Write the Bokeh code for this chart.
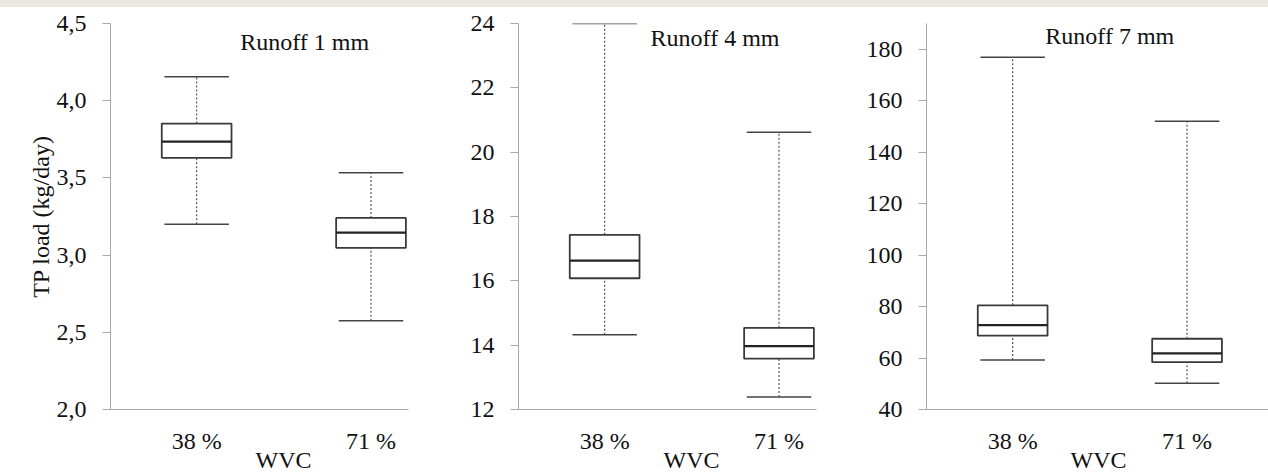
import numpy as np
from bokeh.plotting import figure
from bokeh.layouts import row
from bokeh.models import Range1d, FixedTicker, Label, Title
from bokeh.embed import file_html
from bokeh.resources import INLINE

# ---------------- data ----------------
categories = ["38 %", "71 %"]
x_title = "WVC"
y_title = "TP load (kg/day)"
panel_titles = ["Runoff 1 mm", "Runoff 4 mm", "Runoff 7 mm"]

# Runoff 1 mm : values for [38 %, 71 %]
r1_lower = [3.20, 2.575]
r1_q1 = [3.630, 3.047]
r1_median = [3.735, 3.145]
r1_q3 = [3.852, 3.241]
r1_upper = [4.155, 3.534]

# Runoff 4 mm
r4_lower = [14.32, 12.39]
r4_q1 = [16.08, 13.58]
r4_median = [16.63, 13.97]
r4_q3 = [17.43, 14.54]
r4_upper = [24.00, 20.62]

# Runoff 7 mm
r7_lower = [59.2, 50.2]
r7_q1 = [68.7, 58.4]
r7_median = [72.8, 61.8]
r7_q3 = [80.5, 67.5]
r7_upper = [176.9, 152.0]

r1_ticks = [2.0, 2.5, 3.0, 3.5, 4.0, 4.5]
r1_tick_labels = ["2,0", "2,5", "3,0", "3,5", "4,0", "4,5"]
r4_ticks = [12, 14, 16, 18, 20, 22, 24]
r4_tick_labels = ["12", "14", "16", "18", "20", "22", "24"]
r7_ticks = [40, 60, 80, 100, 120, 140, 160, 180]
r7_tick_labels = ["40", "60", "80", "100", "120", "140", "160", "180"]

# ---------------- style ----------------
FONT = "Liberation Serif"
TXT = "#111111"
AXIS = "#a9a9a9"
LINE = "#3a3a3a"
WHISK = "#555555"
FS = "24px"
BOX_W = 0.40
CAP_W = 0.37
H = 466
B_TOP = 16
B_BOTTOM = 64


def make_panel(lower, q1, med, q3, upper, ticks, tick_labels, yr, xr, title,
               title_xy, width, b_left, b_right, show_ylabel, wvc_offset):
    p = figure(width=width, height=H, output_backend="svg", toolbar_location=None,
               x_range=Range1d(*xr), y_range=Range1d(*yr),
               min_border_left=b_left, min_border_right=b_right,
               min_border_top=B_TOP, min_border_bottom=B_BOTTOM,
               background_fill_color="white",
               border_fill_color="white", outline_line_color=None)
    p.grid.visible = False

    xs = np.arange(1, len(categories) + 1, dtype=float)
    lower = np.array(lower); q1 = np.array(q1); med = np.array(med)
    q3 = np.array(q3); upper = np.array(upper)

    # whiskers (dashed)
    p.segment(x0=xs, y0=q3, x1=xs, y1=upper, line_color=WHISK,
              line_width=1.2, line_dash="2 2")
    p.segment(x0=xs, y0=lower, x1=xs, y1=q1, line_color=WHISK,
              line_width=1.2, line_dash="2 2")
    # caps
    p.segment(x0=xs - CAP_W / 2, y0=upper, x1=xs + CAP_W / 2, y1=upper,
              line_color="#444444", line_width=1.5)
    p.segment(x0=xs - CAP_W / 2, y0=lower, x1=xs + CAP_W / 2, y1=lower,
              line_color="#444444", line_width=1.5)
    # boxes
    p.vbar(x=xs, width=BOX_W, bottom=q1, top=q3, fill_color="white",
           line_color=LINE, line_width=1.8)
    # medians
    p.segment(x0=xs - BOX_W / 2, y0=med, x1=xs + BOX_W / 2, y1=med,
              line_color="#222222", line_width=2.2)

    # x axis
    xa = p.xaxis[0]
    xa.ticker = FixedTicker(ticks=list(xs))
    xa.major_label_overrides = {float(x): c for x, c in zip(xs, categories)}
    xa.major_tick_out = 0
    xa.major_tick_in = 0
    xa.minor_tick_out = 0
    xa.minor_tick_in = 0
    xa.axis_line_color = AXIS
    xa.major_label_text_font = FONT
    xa.major_label_text_font_size = FS
    xa.major_label_text_color = TXT
    xa.major_label_standoff = 18

    # y axis
    ya = p.yaxis[0]
    ya.ticker = FixedTicker(ticks=ticks)
    ya.major_label_overrides = {t: l for t, l in zip(ticks, tick_labels)}
    ya.major_tick_out = 8
    ya.major_tick_in = 0
    ya.minor_tick_out = 0
    ya.minor_tick_in = 0
    ya.axis_line_color = AXIS
    ya.major_tick_line_color = AXIS
    ya.major_label_text_font = FONT
    ya.major_label_text_font_size = FS
    ya.major_label_text_color = TXT
    ya.major_label_standoff = 16
    if show_ylabel:
        ya.axis_label = y_title
        ya.axis_label_text_font = FONT
        ya.axis_label_text_font_size = FS
        ya.axis_label_text_font_style = "normal"
        ya.axis_label_text_color = TXT
        ya.axis_label_standoff = 0

    # panel title (inside the plot area)
    p.add_layout(Label(x=title_xy[0], y=title_xy[1], text=title, text_font=FONT,
                       text_font_size=FS, text_color=TXT, text_align="center",
                       text_baseline="alphabetic"))
    # x axis title "WVC"
    p.add_layout(Title(text=x_title, align="left", offset=wvc_offset,
                       vertical_align="top", standoff=-20, text_font=FONT,
                       text_font_size=FS, text_font_style="normal",
                       text_color=TXT), "below")
    return p


p1 = make_panel(r1_lower, r1_q1, r1_median, r1_q3, r1_upper, r1_ticks, r1_tick_labels,
                (2.0, 4.5), (0.506, 2.215), panel_titles[0], (1.62, 4.38),
                420, 110, 12, True, 145)
p2 = make_panel(r4_lower, r4_q1, r4_median, r4_q3, r4_upper, r4_ticks, r4_tick_labels,
                (12, 24), (0.506, 2.215), panel_titles[1], (1.633, 23.54),
                420, 98, 24, False, 145)
p3 = make_panel(r7_lower, r7_q1, r7_median, r7_q3, r7_upper, r7_ticks, r7_tick_labels,
                (40, 190), (0.506, 2.467), panel_titles[2], (1.557, 185.3),
                428, 86, 0, False, 144)

layout = row(p1, p2, p3)
html = file_html(layout, INLINE)
css = ("<style>html, body { margin: 0 !important; } "
       "body { padding: 7px 0 0 0 !important; "
       "background: #ffffff linear-gradient(#ebe7e3, #ebe7e3) no-repeat 0 0 / 100% 7px !important; }"
       "</style>")
if "</head>" in html:
    html = html.replace("</head>", css + "</head>", 1)
else:
    html = css + html
open("out.html", "w").write(html)
